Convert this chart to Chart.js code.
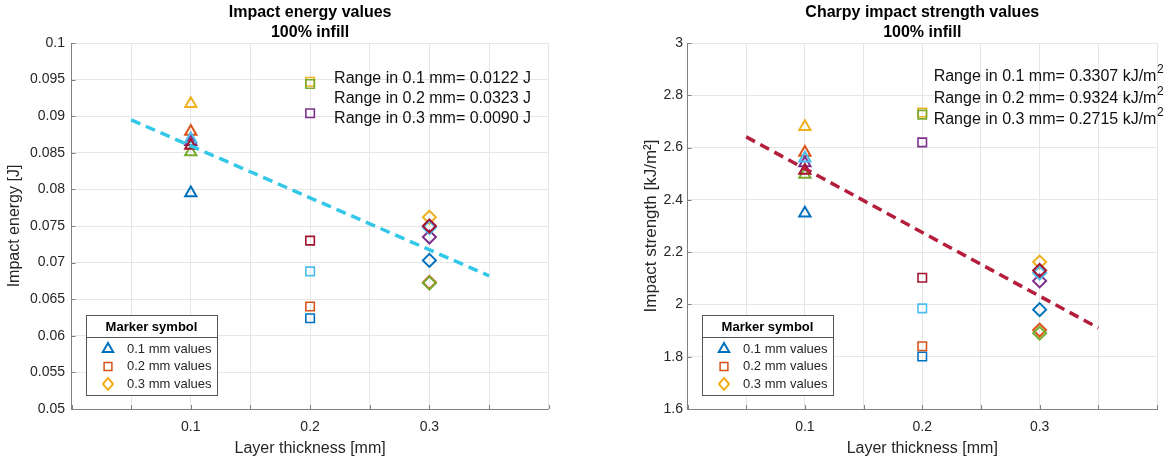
<!DOCTYPE html>
<html>
<head>
<meta charset="utf-8">
<title>Impact test results - 100% infill</title>
<script src="https://cdn.jsdelivr.net/npm/chart.js@4.4.1/dist/chart.umd.min.js"></script>
<style>
  body { margin: 0; background: #fff; }
  #wrap { display: flex; width: 1167px; height: 461px; }
  canvas { display: block; }
</style>
</head>
<body>
<div id="wrap">
  <canvas id="energyChart" width="600" height="461"></canvas>
  <canvas id="strengthChart" width="567" height="461"></canvas>
</div>
<script>
const FONT = "'Liberation Sans', Arial, Helvetica, sans-serif";

// one colour per specimen, same order in every layer thickness group
const specimenColors = ["#0072BD", "#D95319", "#EDB120", "#7E2F8E", "#77AC30", "#4DBEEE", "#A2142F"];

const layerThickness = [0.1, 0.2, 0.3];
const xTickLabels = ["0.1", "0.2", "0.3"];

// impact energy [J], 7 specimens per layer thickness
const energy01 = [0.0795, 0.0879, 0.0917, 0.0865, 0.0851, 0.0869, 0.0860];
const energy02 = [0.0624, 0.0640, 0.0947, 0.0904, 0.0944, 0.0688, 0.0730];
const energy03 = [0.0703, 0.0673, 0.0762, 0.0735, 0.0672, 0.0748, 0.0750];
const energyRanges = ["0.0122", "0.0323", "0.0090"];

// charpy impact strength [kJ/m2]
const strength01 = [2.349, 2.581, 2.680, 2.541, 2.497, 2.559, 2.512];
const strength02 = [1.801, 1.840, 2.734, 2.620, 2.726, 1.985, 2.102];
const strength03 = [1.980, 1.902, 2.162, 2.090, 1.890, 2.120, 2.130];
const strengthRanges = ["0.3307", "0.9324", "0.2715"];

// linear fit lines, evaluated at the two ends
const fitX = [0.05, 0.35];
const energyFit = [0.0895, 0.0682];
const strengthFit = [2.641, 1.910];

const markerShapes = ["triangle", "rect", "rectRot"];

function markerPath(ctx, shape, x, y, r) {
  ctx.beginPath();
  if (shape === "triangle") {
    ctx.moveTo(x, y - r);
    ctx.lineTo(x + r * 0.866, y + r * 0.5);
    ctx.lineTo(x - r * 0.866, y + r * 0.5);
  } else if (shape === "rect") {
    const s = r * 0.707;
    ctx.rect(x - s, y - s, 2 * s, 2 * s);
  } else {
    ctx.moveTo(x, y - r);
    ctx.lineTo(x + r * 0.85, y);
    ctx.lineTo(x, y + r);
    ctx.lineTo(x - r * 0.85, y);
  }
  ctx.closePath();
}

// inward ticks, range text and the "Marker symbol" box
const panelExtras = {
  id: "panelExtras",
  afterDraw(chart, args, opts) {
    const { ctx, chartArea: a } = chart;
    const xs = chart.scales.x, ys = chart.scales.y;
    ctx.save();

    ctx.strokeStyle = "#808080";
    ctx.lineWidth = 1;
    xs.ticks.forEach((t) => {
      const px = Math.round(xs.getPixelForValue(t.value)) + 0.5;
      ctx.beginPath();
      ctx.moveTo(px, a.bottom);
      ctx.lineTo(px, a.bottom - 4);
      ctx.stroke();
    });
    ys.ticks.forEach((t) => {
      const py = Math.round(ys.getPixelForValue(t.value)) + 0.5;
      ctx.beginPath();
      ctx.moveTo(a.left, py);
      ctx.lineTo(a.left + 4, py);
      ctx.stroke();
    });

    // range of each layer thickness group
    ctx.fillStyle = "#111";
    ctx.textAlign = "left";
    ctx.textBaseline = "middle";
    const tx = xs.getPixelForValue(opts.textX);
    opts.ranges.forEach((r, i) => {
      const ty = ys.getPixelForValue(opts.textY) + i * opts.lineGap;
      const s = "Range in " + xTickLabels[i] + " mm= " + r + " " + opts.unit;
      ctx.font = "16px " + FONT;
      ctx.fillText(s, tx, ty);
      if (opts.sup) {
        const w = ctx.measureText(s).width;
        ctx.font = "12px " + FONT;
        ctx.fillText(opts.sup, tx + w + 0.5, ty - 7);
      }
    });

    // legend box
    const bw = 131, bh = 80;
    const bx = Math.round(a.left + 14.5), by = Math.round(a.bottom - 14 - bh);
    ctx.fillStyle = "#fff";
    ctx.fillRect(bx, by, bw, bh);
    ctx.strokeStyle = "#555";
    ctx.strokeRect(bx + 0.5, by + 0.5, bw, bh);
    ctx.beginPath();
    ctx.moveTo(bx, by + 22.5);
    ctx.lineTo(bx + bw, by + 22.5);
    ctx.stroke();
    ctx.fillStyle = "#000";
    ctx.font = "bold 13px " + FONT;
    ctx.textAlign = "center";
    ctx.fillText("Marker symbol", bx + bw / 2, by + 12);
    ctx.font = "13px " + FONT;
    ctx.textAlign = "left";
    const legendItems = [
      { shape: "triangle", color: specimenColors[0], r: 6, w: 2 },
      { shape: "rect", color: specimenColors[1], r: 5.5, w: 1.5 },
      { shape: "rectRot", color: specimenColors[2], r: 6, w: 2 },
    ];
    legendItems.forEach((it, i) => {
      const ly = by + 34 + i * 17.5;
      markerPath(ctx, it.shape, bx + 22, ly, it.r);
      ctx.strokeStyle = it.color;
      ctx.lineWidth = it.w;
      ctx.stroke();
      ctx.fillStyle = "#262626";
      ctx.fillText(xTickLabels[i] + " mm values", bx + 41, ly);
    });

    ctx.restore();
  },
};

function buildChart(canvasId, cfg) {
  const groups = cfg.values.map((vals, i) => ({
    data: vals.map((v) => ({ x: layerThickness[i], y: v })),
    pointStyle: markerShapes[i],
    pointRadius: i === 1 ? 6 : 6.5,
    pointHoverRadius: i === 1 ? 6 : 6.5,
    pointBorderWidth: i === 1 ? 1.6 : 2,
    pointBorderColor: specimenColors,
    pointBackgroundColor: "rgba(0,0,0,0)",
  }));
  const fitLine = {
    data: fitX.map((xv, k) => ({ x: xv, y: cfg.fit[k] })),
    showLine: true,
    borderColor: cfg.fitColor,
    borderWidth: 3.5,
    borderDash: [10, 6],
    pointRadius: 0,
    pointHoverRadius: 0,
  };

  return new Chart(document.getElementById(canvasId), {
    type: "scatter",
    data: { datasets: [fitLine].concat(groups) },
    plugins: [panelExtras],
    options: {
      responsive: false,
      animation: false,
      devicePixelRatio: 1,
      layout: { padding: { left: 0, right: cfg.padRight, top: 0, bottom: 0 } },
      plugins: {
        legend: { display: false },
        tooltip: { enabled: false },
        title: {
          display: true,
          text: [cfg.title, "100% infill"],
          color: "#000",
          fullSize: false,
          font: { family: FONT, size: 16, weight: "bold", lineHeight: 1.25 },
          padding: { top: 3, bottom: 0 },
        },
        panelExtras: cfg.extras,
      },
      scales: {
        x: {
          type: "linear",
          min: 0,
          max: 0.4,
          ticks: {
            stepSize: 0.05,
            autoSkip: false,
            maxRotation: 0,
            padding: 10,
            color: "#262626",
            font: { family: FONT, size: 14 },
            callback: (v) => {
              const i = layerThickness.findIndex((t) => Math.abs(t - v) < 1e-9);
              return i < 0 ? "" : xTickLabels[i];
            },
          },
          grid: { color: "#e6e6e6", drawTicks: false },
          border: { color: "#808080" },
          title: {
            display: true,
            text: "Layer thickness [mm]",
            color: "#262626",
            font: { family: FONT, size: 16 },
            padding: { top: 0, bottom: 3 },
          },
          afterFit: (s) => { s.height = 52; },
        },
        y: {
          type: "linear",
          min: cfg.yMin,
          max: cfg.yMax,
          ticks: {
            stepSize: cfg.yStep,
            autoSkip: false,
            padding: cfg.tickPad,
            color: "#262626",
            font: { family: FONT, size: 14 },
            callback: (v) => String(parseFloat(v.toFixed(cfg.decimals))),
          },
          grid: { color: "#e6e6e6", drawTicks: false },
          border: { color: "#808080" },
          title: {
            display: true,
            text: cfg.yTitle,
            color: "#262626",
            font: { family: FONT, size: cfg.yTitleSize },
            padding: { top: cfg.yTitlePad, bottom: 0 },
          },
          afterFit: (s) => { s.width = cfg.axisWidth; },
        },
      },
    },
  });
}

buildChart("energyChart", {
  title: "Impact energy values",
  values: [energy01, energy02, energy03],
  fit: energyFit,
  fitColor: "#33C8E8",
  yMin: 0.05, yMax: 0.1, yStep: 0.005, decimals: 3,
  yTitle: "Impact energy [J]", yTitleSize: 16, yTitlePad: 5.4,
  axisWidth: 71.5, tickPad: 6.5, padRight: 51.3,
  extras: { ranges: energyRanges, unit: "J", sup: "", textX: 0.2201, textY: 0.0951, lineGap: 20 },
});

buildChart("strengthChart", {
  title: "Charpy impact strength values",
  values: [strength01, strength02, strength03],
  fit: strengthFit,
  fitColor: "#B41D3B",
  yMin: 1.6, yMax: 3, yStep: 0.2, decimals: 1,
  yTitle: "Impact strength [kJ/m²]", yTitleSize: 17, yTitlePad: 41,
  axisWidth: 87.5, tickPad: 4.5, padRight: 5.3,
  extras: { ranges: strengthRanges, unit: "kJ/m", sup: "2", textX: 0.2097, textY: 2.87, lineGap: 21.5 },
});
</script>
</body>
</html>
